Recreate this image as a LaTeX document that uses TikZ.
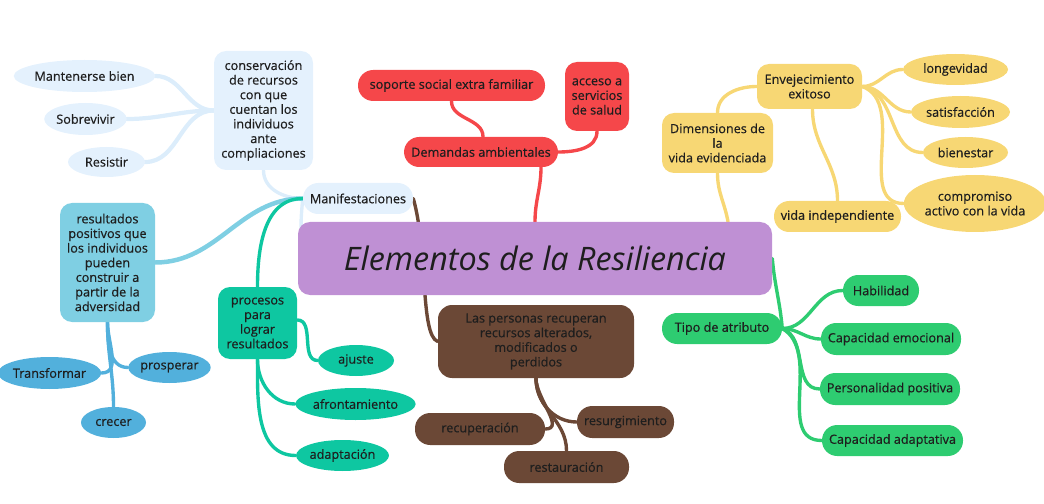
\documentclass[tikz,border=0pt]{standalone}
\usepackage{fontspec}
\setmainfont{Open Sans}[UprightFeatures={FakeBold=0.5}]
\newfontfamily\titre{Open Sans}
\usepackage[dvipsnames]{xcolor}
\usetikzlibrary{shapes.geometric,backgrounds,calc}

\definecolor{texte}{HTML}{1E1E1E}
\definecolor{bleuclair}{HTML}{E4F1FD}
\definecolor{bleulien}{HTML}{DCEDFB}
\definecolor{bleumoyen}{HTML}{7FCFE3}
\definecolor{bleufonce}{HTML}{52B0DC}
\definecolor{turquoise}{HTML}{0EC7A1}
\definecolor{rouge}{HTML}{F5474A}
\definecolor{jaune}{HTML}{F7D774}
\definecolor{vert}{HTML}{2ECC71}
\definecolor{brun}{HTML}{6B4836}
\definecolor{violet}{HTML}{BF90D4}

\begin{document}
\begin{tikzpicture}[x=0.025cm,y=-0.025cm,
  every node/.style={font=\fontsize{9}{10.4}\selectfont, text=texte, align=center, inner sep=0pt},
  taille/.style 2 args={minimum width=#1*0.025cm, minimum height=#2*0.025cm},
  boite/.style={rectangle, rounded corners=0.3cm},
  pilule/.style={rectangle, rounded corners=0.38cm},
  bulle/.style={ellipse},
  lien/.style={line width=2.4pt, line cap=round}]
\useasboundingbox (0,0) rectangle (1044,504);

%noeud central
\node[boite, fill=violet, taille={474}{73}, font=\titre\fontsize{23}{26}\selectfont\itshape] (central) at (535,258.5) {Elementos de la Resiliencia};

%branche bleue
\node[pilule, fill=bleuclair, taille={110}{31}] (manif) at (358,198.5) {Manifestaciones};
\node[boite, fill=bleuclair, taille={99}{119}] (cons) at (263.5,110.5) {conservación\\de recursos\\con que\\cuentan los\\individuos\\ante\\compliaciones};
\node[bulle, fill=bleuclair, taille={133}{32}] (mant) at (84.5,76) {Mantenerse bien};
\node[bulle, fill=bleuclair, taille={81}{32}] (sobr) at (85.5,119) {Sobrevivir};
\node[bulle, fill=bleuclair, taille={77}{30}] (resi) at (106.5,162) {Resistir};
\node[boite, fill=bleumoyen, taille={95}{119}] (resul) at (107.5,262.5) {resultados\\positivos que\\los individuos\\pueden\\construir a\\partir de la\\adversidad};
\node[bulle, fill=bleufonce, taille={99}{32}] (trans) at (49.5,373) {Transformar};
\node[bulle, fill=bleufonce, taille={79}{31}] (pros) at (169.5,367.5) {prosperar};
\node[bulle, fill=bleufonce, taille={65}{31}] (crec) at (113.5,422.5) {crecer};
\node[boite, fill=turquoise, taille={79}{72}] (proc) at (257.5,323) {procesos\\para\\lograr\\resultados};
\node[bulle, fill=turquoise, taille={76}{31}] (aju) at (356,360.5) {ajuste};
\node[bulle, fill=turquoise, taille={113}{32}] (afr) at (355.5,404) {afrontamiento};
\node[bulle, fill=turquoise, taille={87}{31}] (adap) at (342.5,455.5) {adaptación};

%branche rouge
\node[pilule, fill=rouge, taille={154}{30}] (dem) at (481,152) {Demandas ambientales};
\node[pilule, fill=rouge, taille={187}{31}] (sop) at (451.5,85.5) {soporte social extra familiar};
\node[boite, fill=rouge, taille={64}{69}] (acc) at (597,96.5) {acceso a\\servicios\\de salud};

%branche jaune
\node[boite, fill=jaune, taille={111}{60}] (dim) at (717.5,143) {Dimensiones de\\la\\vida evidenciada};
\node[boite, fill=jaune, taille={105}{45}] (env) at (809.5,86.5) {Envejecimiento\\exitoso};
\node[pilule, fill=jaune, taille={127}{31}] (vind) at (837.5,216.5) {vida independiente};
\node[bulle, fill=jaune, taille={105}{31}] (lon) at (955.5,69.5) {longevidad};
\node[bulle, fill=jaune, taille={99}{32}] (sat) at (960.5,112) {satisfacción};
\node[bulle, fill=jaune, taille={85}{31}] (bie) at (965.5,152.5) {bienestar};
\node[bulle, fill=jaune, taille={136}{57}] (com) at (975,203.5) {compromiso\\activo con la vida};

%branche verte
\node[pilule, fill=vert, taille={120}{31}] (tipo) at (722,328.5) {Tipo de atributo};
\node[pilule, fill=vert, taille={76}{31}] (hab) at (881,290.5) {Habilidad};
\node[pilule, fill=vert, taille={140}{32}] (cemo) at (891,339) {Capacidad emocional};
\node[pilule, fill=vert, taille={140}{32}] (pers) at (890,389) {Personalidad positiva};
\node[pilule, fill=vert, taille={141}{31}] (cada) at (892.5,440.5) {Capacidad adaptativa};

%branche brune
\node[boite, fill=brun, taille={196}{73}, rounded corners=0.35cm] (las) at (536,341.5) {Las personas recuperan\\recursos alterados,\\modificados o\\perdidos};
\node[pilule, fill=brun, taille={130}{32}] (recu) at (480,429) {recuperación};
\node[pilule, fill=brun, taille={97}{32}] (resu) at (625.5,422) {resurgimiento};
\node[pilule, fill=brun, taille={125}{32}] (rest) at (566.5,467) {restauración};

%liens
\begin{scope}[on background layer]
\draw[lien, bleulien] (manif.west) .. controls (300,230) .. ($(central.west)+(10,0)$);
\draw[lien, bleulien] (manif.west) to[out=180,in=-90] (cons.south);
\draw[lien, bleulien, line width=3pt] (cons.west) to[out=180,in=0] (mant.east);
\draw[lien, bleulien, line width=3pt] (cons.west) to[out=180,in=0] (sobr.east);
\draw[lien, bleulien, line width=3pt] (cons.west) to[out=180,in=0] (resi.east);
\draw[lien, bleumoyen, line width=3.2pt] (manif.west) to[out=180,in=0] (resul.east);
\draw[lien, bleufonce] (resul.south) to[out=-90,in=0] (trans.east);
\draw[lien, bleufonce] (resul.south) to[out=-90,in=180] (pros.west);
\draw[lien, bleufonce] (resul.south) to[out=-90,in=90] (crec.north);
\draw[lien, turquoise] (manif.west) to[out=180,in=90] (proc.north);
\draw[lien, turquoise] ($(proc.east)+(0,-3)$) to[out=0,in=180] (aju.west);
\draw[lien, turquoise] (proc.south) to[out=-90,in=180] (afr.west);
\draw[lien, turquoise] (proc.south) to[out=-90,in=180] (adap.west);

\draw[lien, rouge] (central.north) to[out=90,in=-90] ($(dem.south)+(60,0)$);
\draw[lien, rouge] (sop.south) to[out=-90,in=90] ($(dem.north)+(2,0)$);
\draw[lien, rouge] (dem.east) to[out=0,in=-90] (acc.south);

\draw[lien, jaune] ($(central.north)+(193,0)$) to[out=100,in=-90] (dim.south);
\draw[lien, jaune] (dim.north) to[out=90,in=180] (env.west);
\draw[lien, jaune] ($(env.south)+(3,0)$) to[out=-90,in=90] (vind.north);
\draw[lien, jaune] (env.east) to[out=0,in=180] (lon.west);
\draw[lien, jaune] (env.east) to[out=0,in=180] (sat.west);
\draw[lien, jaune] (env.east) to[out=-10,in=180] (bie.west);
\draw[lien, jaune] (env.east) to[out=-20,in=180] (com.west);

\draw[lien, vert] (central.east) to[out=-85,in=95] (tipo.east);
\draw[lien, vert] (tipo.east) to[out=0,in=180] (hab.west);
\draw[lien, vert] (tipo.east) to[out=0,in=180] (cemo.west);
\draw[lien, vert] (tipo.east) to[out=-20,in=180] (pers.west);
\draw[lien, vert] (tipo.east) to[out=-30,in=180] (cada.west);

\draw[lien, brun] (manif.east) .. controls (428,250) and (420,335) .. (las.west);
\draw[lien, brun] (las.south) to[out=-90,in=180] (resu.west);
\draw[lien, brun] (las.south) to[out=-90,in=90] (rest.north);
\draw[lien, brun] (las.south) to[out=-90,in=0] (recu.east);
\end{scope}
\end{tikzpicture}
\end{document}
